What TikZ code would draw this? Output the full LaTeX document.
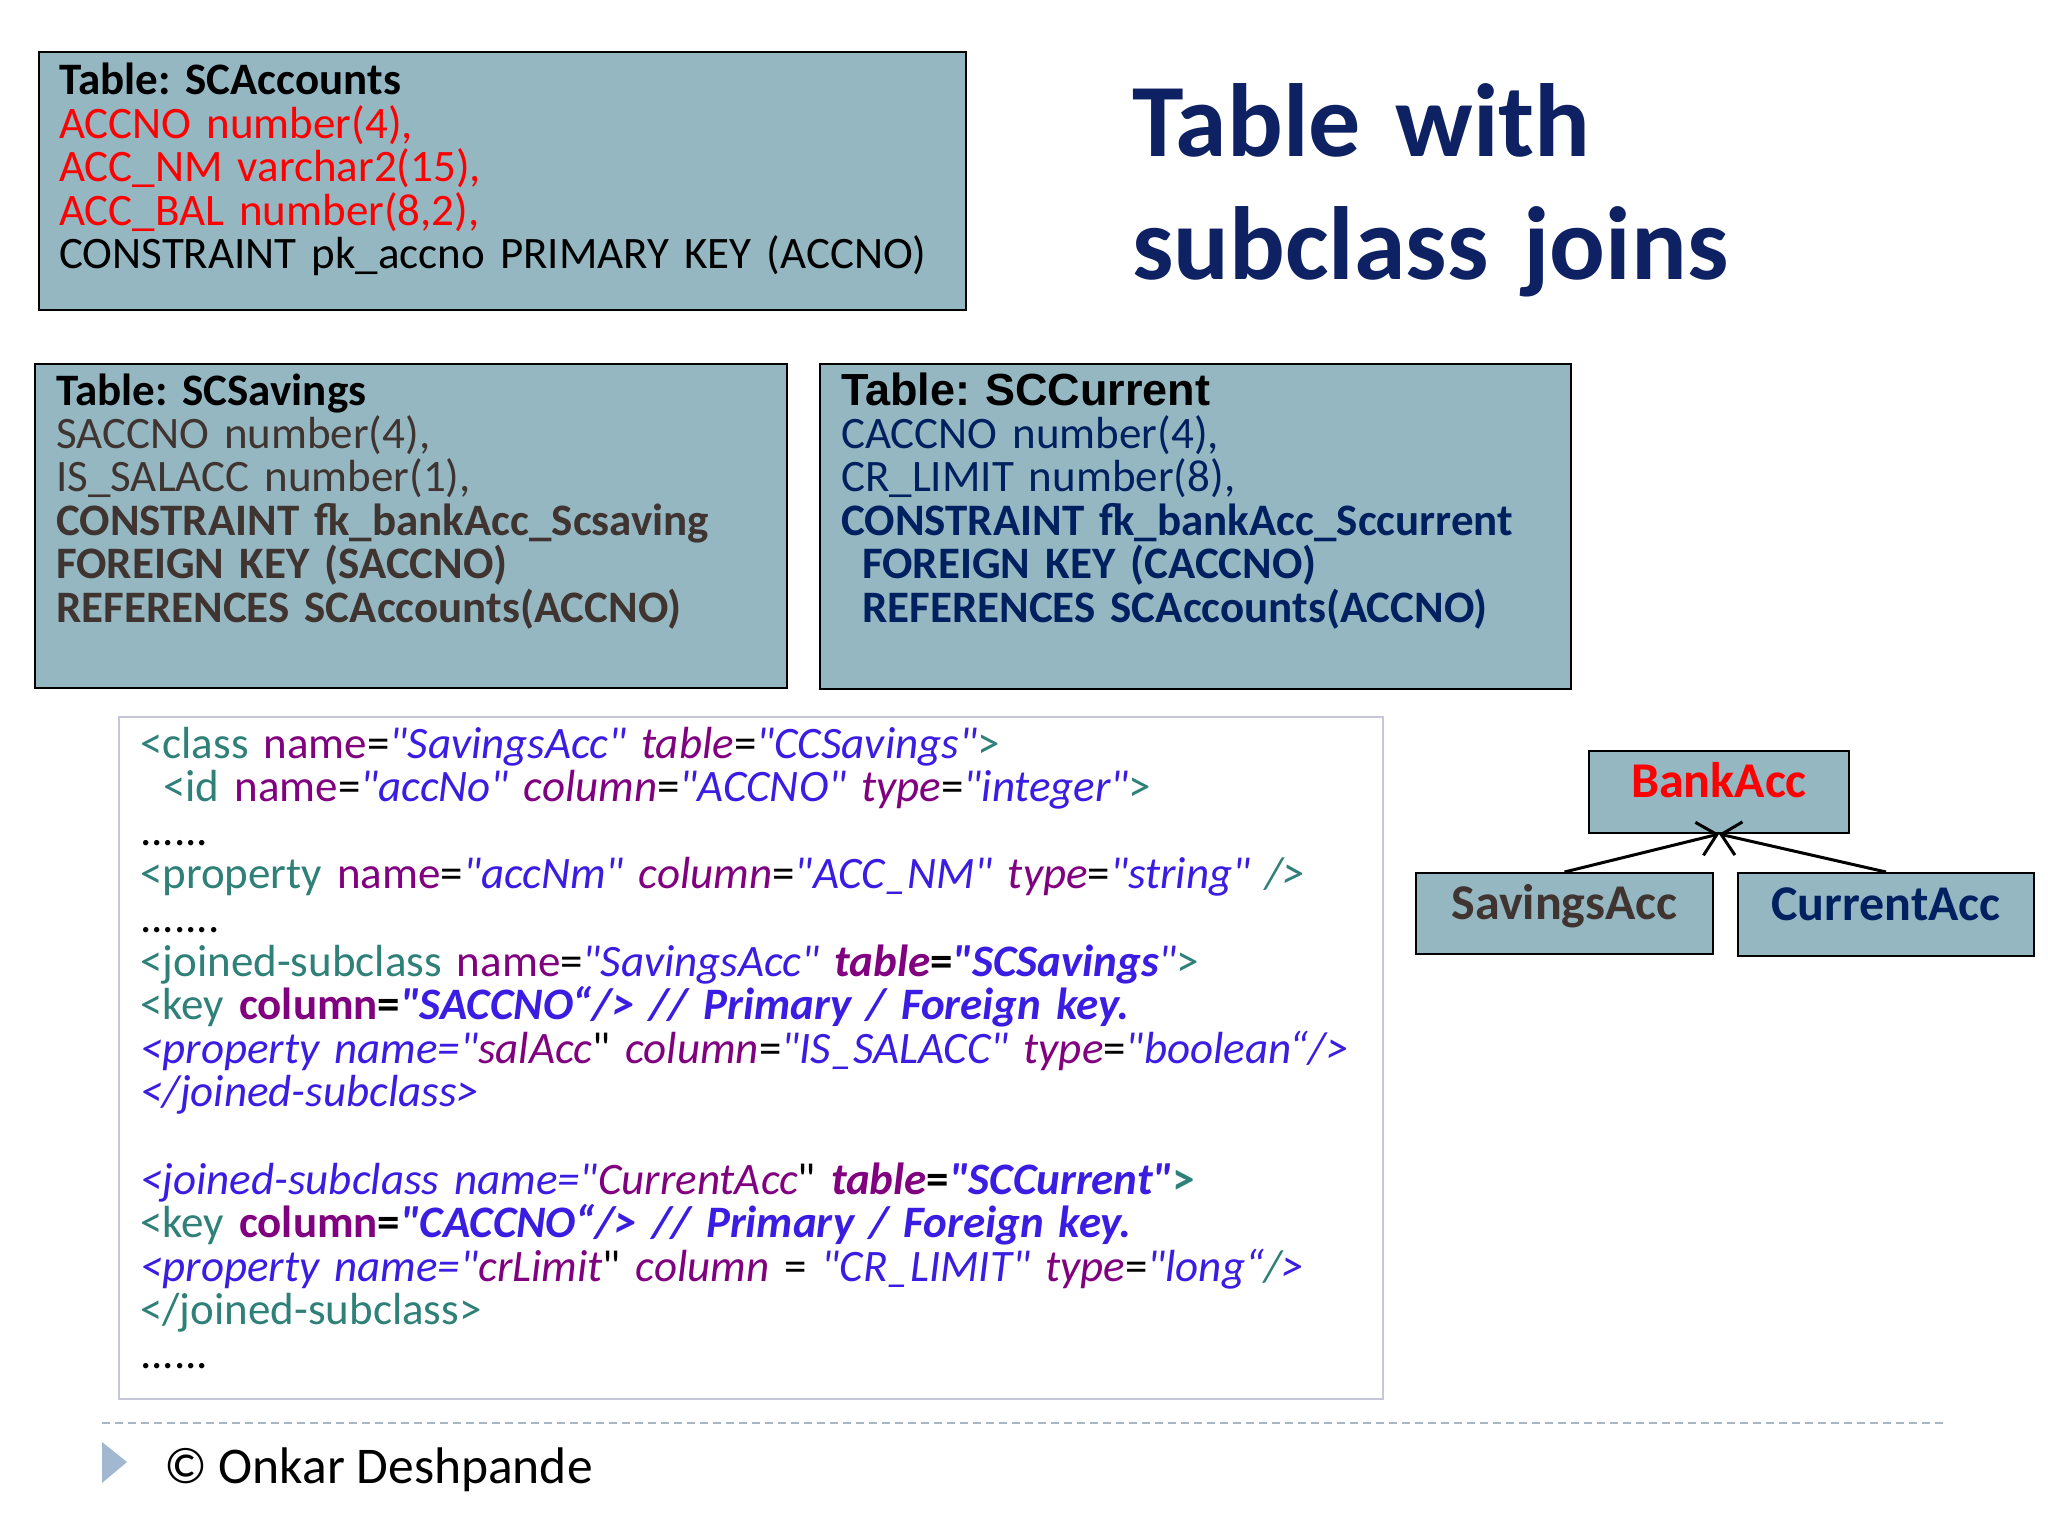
\documentclass[tikz,border=0pt]{standalone}
\usepackage{fontspec}
\setmainfont{Carlito}[Ligatures=TeXOff]
\newfontfamily\arialfont{Liberation Sans}[Ligatures=TeXOff]
\usetikzlibrary{calc,arrows.meta}
\frenchspacing

\definecolor{boxfill}{HTML}{94B7C2}
\definecolor{accred}{HTML}{FF0000}
\definecolor{savbrown}{HTML}{403430}
\definecolor{curnavy}{HTML}{002060}
\definecolor{titlenavy}{HTML}{0E2162}
\definecolor{xmltag}{HTML}{2E8078}
\definecolor{xmlattr}{HTML}{800080}
\definecolor{xmlval}{HTML}{3A1DE3}
\definecolor{codeborder}{HTML}{C5C6DA}
\definecolor{footgray}{HTML}{A7B7C6}
\definecolor{bulletblue}{HTML}{A1B8D0}

\newcommand{\xtag}[1]{\textcolor{xmltag}{#1}}
\newcommand{\xatt}[1]{\textcolor{xmlattr}{#1}}
\newcommand{\xval}[1]{\textcolor{xmlval}{#1}}

\tikzset{
  tablebox/.style={draw=black, line width=2pt, fill=boxfill, inner sep=0pt, anchor=north west},
  tabletext/.style={anchor=base west, inner sep=0pt, align=left,
    font={\fontsize{45}{43.4}\selectfont\lineskiplimit=-50pt}},
  codetext/.style={anchor=base west, inner sep=0pt, align=left,
    font={\fontsize{45}{43.6}\selectfont\lineskiplimit=-50pt}},
  classbox/.style={draw=black, line width=2pt, fill=boxfill, inner sep=0pt,
    font={\bfseries\fontsize{50}{60}\selectfont}, text height=34pt, text depth=23pt},
  inherit/.style={line width=3pt, -{Straight Barb[length=18pt, width=34pt, line width=3pt]}},
}

\begin{document}
\begin{tikzpicture}[x=1pt, y=-1pt]
  \fill[white] (0,0) rectangle (2048,1536);
  \useasboundingbox (0,0) rectangle (2048,1536);

  % tables
  \node[tablebox, minimum width=927pt, minimum height=258pt] (acc) at (38,51) {};
  \node[tabletext, text width=900pt] (acctext) at ($(acc.north west)+(21,44)$)
    {{\bfseries Table: SCAccounts}\\
     \textcolor{accred}{ACCNO number(4),}\\
     \textcolor{accred}{ACC\_NM varchar2(15),}\\
     \textcolor{accred}{ACC\_BAL number(8,2),}\\
     CONSTRAINT pk\_accno PRIMARY KEY (ACCNO)};

  \node[tablebox, minimum width=752pt, minimum height=324pt] (sav) at (34,363) {};
  \node[tabletext, text width=720pt, text=savbrown] (savtext) at ($(sav.north west)+(22,42)$)
    {{\color{black}\bfseries Table: SCSavings}\\
     SACCNO number(4),\\
     IS\_SALACC number(1),\\
     \bfseries CONSTRAINT fk\_bankAcc\_Scsaving\\
     FOREIGN KEY (SACCNO)\\
     REFERENCES SCAccounts(ACCNO)};

  \node[tablebox, minimum width=751pt, minimum height=325pt] (cur) at (819,363) {};
  \node[tabletext, text width=720pt, text=curnavy] (curtext) at ($(cur.north west)+(22,42)$)
    {{\arialfont\bfseries\color{black}Table: SCCurrent}\\
     CACCNO number(4),\\
     CR\_LIMIT number(8),\\
     \bfseries CONSTRAINT fk\_bankAcc\_Sccurrent\\
     \hspace*{21pt}FOREIGN KEY (CACCNO)\\
     \hspace*{21pt}REFERENCES SCAccounts(ACCNO)};

  \node[anchor=base west, inner sep=0pt, text width=700pt, align=left, text=titlenavy,
    font={\bfseries\fontsize{104}{123}\selectfont}] (title) at (1132,157)
    {Table with\\subclass joins};

  % mapping
  \node[draw=codeborder, line width=2pt, fill=white, inner sep=0pt, anchor=north west,
    minimum width=1264pt, minimum height=682pt] (code) at (118,716) {};
  \node[codetext, text width=1300pt] (codetxt) at ($(code.north west)+(22,42)$)
    {\xtag{<class} \xatt{name}=\xval{\itshape "SavingsAcc"} \xatt{\itshape table}=\xval{\itshape "CCSavings"}\xtag{>}\\
     \hspace*{23pt}\xtag{<id} \xatt{name}=\xval{\itshape "accNo"} \xatt{\itshape column}=\xval{\itshape "ACCNO"} \xatt{\itshape type}=\xval{\itshape "integer"}\xtag{>}\\
     ......\\
     \xtag{<property} \xatt{name}=\xval{\itshape "accNm"} \xatt{\itshape column}=\xval{\itshape "ACC\_NM"} \xatt{\itshape type}=\xval{\itshape "string"} \xtag{\itshape />}\\
     .......\\
     \xtag{<joined-subclass} \xatt{name}=\xval{\itshape "SavingsAcc"} \xatt{\bfseries\itshape table}\textbf{=}\xval{\bfseries\itshape "SCSavings}\xval{\itshape "}\xtag{>}\\
     \xtag{<key} \xatt{\bfseries column}\textbf{=}\xval{\bfseries\itshape "SACCNO“/> // Primary / Foreign key.}\\
     \xval{\itshape <property name="}\xatt{\itshape salAcc}" \xatt{\itshape column}=\xval{\itshape "IS\_SALACC"} \xatt{\itshape type}=\xval{\itshape "boolean“/>}\\
     \xval{\itshape </joined-subclass>}\\
     \mbox{}\\
     \xval{\itshape <joined-subclass name="}\xatt{\itshape CurrentAcc}" \xatt{\bfseries\itshape table}\textbf{=}\xval{\bfseries\itshape "SCCurrent"}\xtag{\bfseries >}\\
     \xtag{<key} \xatt{\bfseries column}\textbf{=}\xval{\bfseries\itshape "CACCNO“/> // Primary / Foreign key.}\\
     \xval{\itshape <property name="}\xatt{\itshape crLimit}" \xatt{\itshape column} = \xval{\itshape "CR\_LIMIT"} \xatt{\itshape type}=\xval{\itshape "long“}\xtag{\itshape /}\xval{\itshape >}\\
     \xtag{</joined-subclass>}\\
     ......};

  % classes
  \node[classbox, minimum width=260pt, minimum height=82pt, text=accred] (bank) at (1719,792) {BankAcc};
  \node[classbox, minimum width=297pt, minimum height=81pt, text=savbrown] (savings) at (1564.5,913.5) {SavingsAcc};
  \node[classbox, minimum width=296pt, minimum height=83pt, text=curnavy] (current) at (1886,914.5) {CurrentAcc};
  \draw[inherit] (savings.north) -- (bank.south);
  \draw[inherit] (current.north) -- (bank.south);

  % footer
  \draw[footgray, line width=2.5pt, dash pattern=on 8pt off 5pt] (102,1423) -- (1946,1423);
  \fill[bulletblue] (102,1442) -- (127,1462) -- (102,1483) -- cycle;
  \node[anchor=base west, inner sep=0pt, font={\fontsize{51.5}{60}\selectfont}] (author) at (164,1483)
    {© Onkar Deshpande};
\end{tikzpicture}
\end{document}
